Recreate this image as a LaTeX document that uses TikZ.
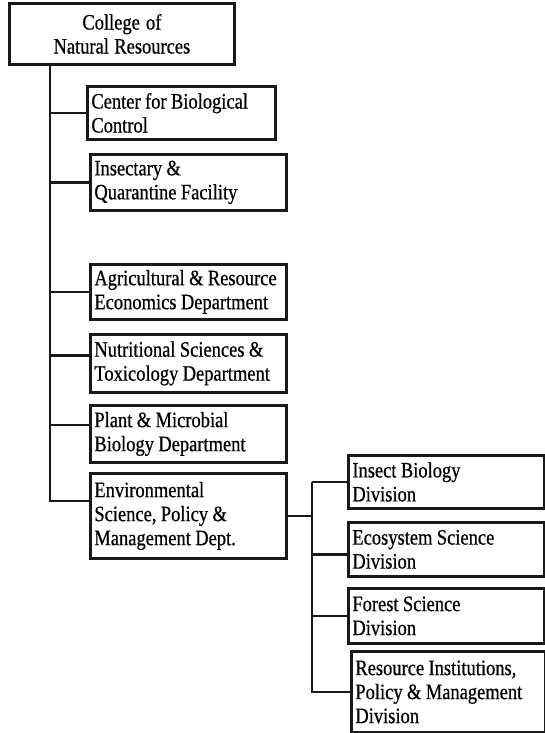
\documentclass[tikz,border=0pt]{standalone}
\usepackage{fontspec}
\setmainfont{Liberation Serif}[FakeStretch=0.84, FakeBold=0.6]
\newcommand{\boxfont}{\fontsize{22}{24}\selectfont\hyphenpenalty=10000 }
\newcommand{\tightsp}{\spaceskip=0.2em plus 0.05em minus 0.03em\relax}
\begin{document}
\begin{tikzpicture}[x=1pt,y=-1pt,
  box/.style={draw=black!90, line width=2.8pt, anchor=north west, inner xsep=4pt, inner ysep=0pt,
    font=\boxfont, align=left},
  conn/.style={draw=black!90, line width=2.3pt}]
\useasboundingbox (0,0) rectangle (545,733);
\newcommand{\obox}[6]{%
  \node[box, minimum width=#4-#2, minimum height=#5-#3, text width=#4-#2-8pt] (#1) at (#2,#3) {\tightsp#6};}
% top
\node[box, align=center, minimum width=225, minimum height=61, text width=215] (top) at (8,2)
  {\tightsp College of\\Natural Resources};
\obox{cbc}{86}{85}{274}{138}{Center for Biological\\Control}
\obox{ins}{89}{153}{285}{209}{Insectary \&\\Quarantine Facility}
\obox{agr}{89}{263}{285}{318}{Agricultural \& Resource\\Economics Department}
\obox{nut}{89}{333}{285}{391}{Nutritional Sciences \&\\Toxicology Department}
\obox{pla}{89}{404}{285}{461}{Plant \& Microbial\\Biology Department}
\obox{env}{89}{472}{285}{557}{Environmental\\Science, Policy \&\\Management Dept.}
\obox{ib}{347}{454}{543}{507}{Insect Biology\\Division}
\obox{eco}{347}{521}{543}{575}{Ecosystem Science\\Division}
\obox{for}{347}{587}{543}{642}{Forest Science\\Division}
\obox{res}{350}{650}{544}{731}{Resource Institutions,\\Policy \& Management\\Division}
% connectors
\coordinate (t1) at (50,63);
\coordinate (envin) at ([yshift=15pt]env.west);
\draw[conn] (t1) |- (envin);
\foreach \n/\s in {cbc/0,ins/0,agr/0,nut/8,pla/9}
  \draw[conn] ([yshift=\s pt]\n.west) -- ([yshift=\s pt]\n.west -| t1);
\coordinate (t2) at (312,515);
\draw[conn] (env.east) -- (env.east -| t2);
\draw[conn] (ib.west -| t2) |- (res.west);
\foreach \n/\s in {ib/0,eco/-5,for/0}
  \draw[conn] ([yshift=\s pt]\n.west) -- ([yshift=\s pt]\n.west -| t2);
\end{tikzpicture}
\end{document}
